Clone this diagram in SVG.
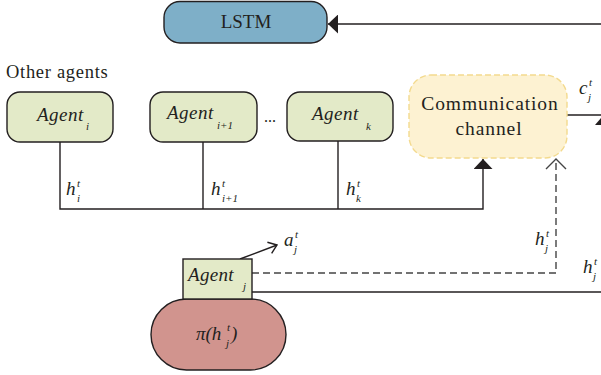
<svg xmlns="http://www.w3.org/2000/svg" width="601" height="375" viewBox="0 0 601 375" font-family="'Liberation Serif', 'Times New Roman', Times, serif">
  <style>
    text { font-family: 'Liberation Serif', 'Times New Roman', Times, serif; fill: #231f20; }
    .it { font-style: italic; }
    .agent { fill: #e3eac8; stroke: #231f20; stroke-width: 1.4; }
    .wire { fill: none; stroke: #231f20; stroke-width: 1.4; }
    .dash { fill: none; stroke: #444; stroke-width: 1.4; stroke-dasharray: 7 4; }
    .sub { font-size: 11px; }
  </style>
  <defs>
    <marker id="solidHead" markerUnits="userSpaceOnUse" viewBox="0 0 10 19" refX="10" refY="9.5" markerWidth="10" markerHeight="19" orient="auto">
      <path d="M0,0 L10,9.5 L0,19 Z" fill="#231f20"/>
    </marker>
    <marker id="openHead" markerUnits="userSpaceOnUse" viewBox="0 0 12 22" refX="11" refY="11" markerWidth="12" markerHeight="22" orient="auto">
      <path d="M1,1 L11,11 L1,21" fill="none" stroke="#444" stroke-width="1.4"/>
    </marker>
    <marker id="smallOpen" markerUnits="userSpaceOnUse" viewBox="0 0 10 14" refX="9" refY="7" markerWidth="10" markerHeight="14" orient="auto">
      <path d="M1,1 L9,7 L1,13" fill="none" stroke="#231f20" stroke-width="1.4"/>
    </marker>
  </defs>

  <!-- connectors -->
  <g id="connectors">
    <!-- feedback into LSTM -->
    <line class="wire" x1="601" y1="24" x2="328" y2="24" marker-end="url(#solidHead)"/>
    <!-- hidden states of other agents collected on a bus -->
    <polyline class="wire" points="60,142 60,209 483,209 483,159" marker-end="url(#solidHead)"/>
    <line class="wire" x1="203" y1="142" x2="203" y2="209"/>
    <line class="wire" x1="338" y1="141" x2="338" y2="209"/>
    <!-- message out of the channel -->
    <line class="wire" x1="567" y1="115" x2="601" y2="115"/>
    <path d="M595,125 L601,118 L607,125 Z" fill="#231f20"/>
    <!-- agent j hidden state sent to the channel -->
    <polyline class="dash" points="252,273 556,273 556,159" marker-end="url(#openHead)"/>
    <!-- agent j hidden state to the right -->
    <line class="wire" x1="252" y1="292" x2="601" y2="292"/>
    <!-- action output -->
    <line class="wire" x1="240" y1="259" x2="277" y2="245" marker-end="url(#smallOpen)"/>
  </g>

  <!-- LSTM -->
  <g id="lstm">
    <rect x="164" y="1.5" width="163" height="41.5" rx="16" fill="#7eafc8" stroke="#231f20" stroke-width="1.4"/>
    <text x="246" y="28" font-size="19" text-anchor="middle">LSTM</text>
  </g>

  <text x="6" y="78" font-size="18.5" letter-spacing="0.7">Other agents</text>

  <!-- other agents -->
  <g id="agent-i">
    <rect class="agent" x="7" y="92" width="106" height="50" rx="13"/>
    <text class="it" x="37" y="121" font-size="19" letter-spacing="0.5">Agent</text>
    <text class="it sub" x="86" y="130">i</text>
  </g>
  <g id="agent-i1">
    <rect class="agent" x="150" y="92" width="107" height="50" rx="13"/>
    <text class="it" x="167" y="119" font-size="19" letter-spacing="0.5">Agent</text>
    <text class="it sub" x="217" y="129">i+1</text>
  </g>
  <text x="264" y="122" font-size="16">...</text>
  <g id="agent-k">
    <rect class="agent" x="287" y="92" width="106" height="49" rx="13"/>
    <text class="it" x="312" y="120" font-size="19" letter-spacing="0.5">Agent</text>
    <text class="it sub" x="366" y="130">k</text>
  </g>

  <!-- communication channel -->
  <g id="channel">
    <rect x="409" y="75" width="158" height="83" rx="22" fill="#fdf2d2" stroke="#f3da8e" stroke-width="1.4" stroke-dasharray="6 3"/>
    <text x="490" y="110" font-size="19.5" text-anchor="middle" letter-spacing="0.9">Communication</text>
    <text x="489" y="135" font-size="19.5" text-anchor="middle" letter-spacing="0.9">channel</text>
  </g>

  <!-- agent j and its policy -->
  <g id="policy">
    <rect x="151" y="299" width="135" height="71" rx="35.5" fill="#d1948e" stroke="#231f20" stroke-width="1.4"/>
    <text class="it" x="196" y="340" font-size="19">π(h</text>
    <text class="it sub" x="227" y="331">t</text>
    <text class="it sub" x="226" y="347">j</text>
    <text class="it" x="231" y="340" font-size="19">)</text>
  </g>
  <g id="agent-j">
    <rect class="agent" x="183" y="259" width="69" height="40" stroke-width="2"/>
    <text class="it" x="188" y="281" font-size="19" letter-spacing="0.3">Agent</text>
    <text class="it sub" x="243" y="290">j</text>
  </g>

  <!-- signal labels -->
  <g id="labels">
    <text class="it" x="66" y="195" font-size="19">h</text>
    <text class="it sub" x="77" y="187">t</text>
    <text class="it sub" x="77" y="202">i</text>

    <text class="it" x="211" y="195" font-size="19">h</text>
    <text class="it sub" x="222" y="187">t</text>
    <text class="it sub" x="222" y="202">i+1</text>

    <text class="it" x="346" y="195" font-size="19">h</text>
    <text class="it sub" x="357" y="187">t</text>
    <text class="it sub" x="356" y="202">k</text>

    <text class="it" x="535" y="245" font-size="19">h</text>
    <text class="it sub" x="546" y="237">t</text>
    <text class="it sub" x="545" y="252">j</text>

    <text class="it" x="583" y="273" font-size="19">h</text>
    <text class="it sub" x="594" y="265">t</text>
    <text class="it sub" x="593" y="280">j</text>

    <text class="it" x="579" y="94" font-size="19">c</text>
    <text class="it sub" x="589" y="86">t</text>
    <text class="it sub" x="588" y="101">j</text>

    <text class="it" x="284" y="246" font-size="19">a</text>
    <text class="it sub" x="295" y="238">t</text>
    <text class="it sub" x="294" y="253">j</text>
  </g>
</svg>
